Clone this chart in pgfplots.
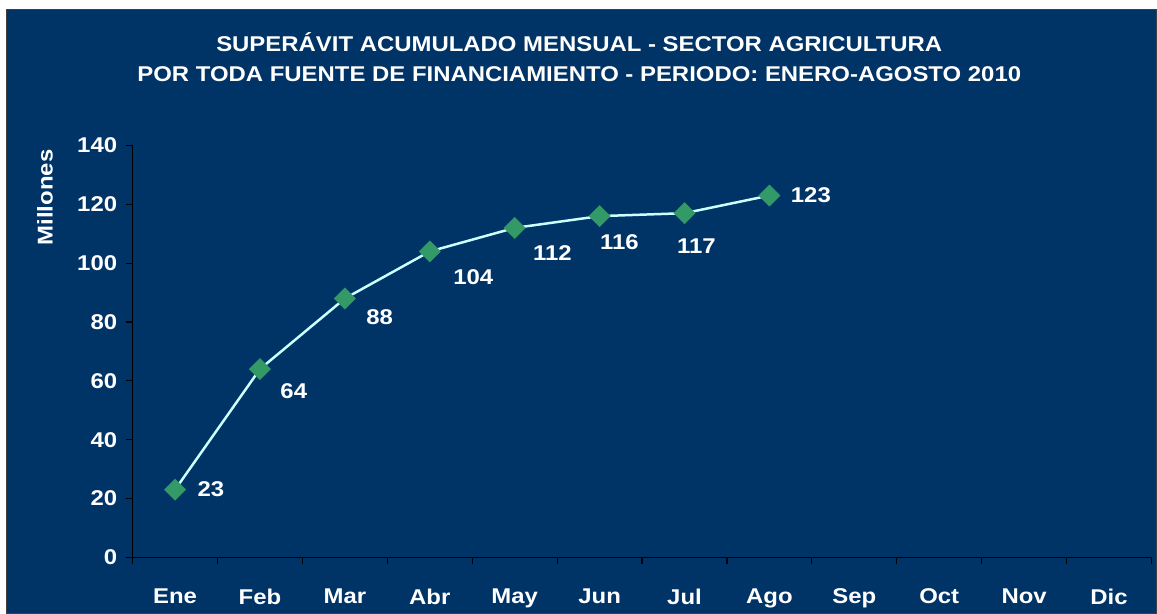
\documentclass[border=0pt]{standalone}
\usepackage{pgfplots}
\pgfplotsset{compat=1.18}
\usepackage{pgfplotstable}
\usepackage{fontspec}
\setmainfont{Liberation Sans}[FakeStretch=1.12]

\definecolor{navy}{RGB}{0,51,102}
\definecolor{lineblue}{RGB}{204,255,255}
\definecolor{markgreen}{RGB}{51,153,102}

% x = month index, y = accumulated surplus, dx/dy = label offsets (bp)
\pgfplotstableread{
x y dx dy
0 23 19 0
1 64 17 -22
2 88 18 -19
3 104 20 -26
4 112 15 -25
5 116 -3 -26
6 117 -11 -33
7 123 18 0
}\superavit

\newcommand{\lblfont}{\bfseries\fontsize{21.5}{26}\selectfont}

\begin{document}
\begin{tikzpicture}[x=1bp,y=1bp]
\fill[white] (0,0) rectangle (1157,612);
\filldraw[fill=navy, draw=black!75, line width=1bp] (7,-3) rectangle (1160,602);
\useasboundingbox (0,0) rectangle (1157,612);

\node[font=\bfseries\fontsize{21.5}{30}\selectfont, text=white, align=center]
  at (581,555) {SUPERÁVIT ACUMULADO MENSUAL - SECTOR AGRICULTURA\\
  POR TODA FUENTE DE FINANCIAMIENTO - PERIODO: ENERO-AGOSTO 2010};

\begin{axis}[
    at={(133bp,53bp)}, anchor=south west,
    scale only axis,
    width=1022bp, height=413bp,
    xmin=-0.5, xmax=11.5,
    ymin=0, ymax=140,
    clip=false,
    axis x line*=bottom, axis y line*=left,
    axis line style={black, line width=1.2bp, -},
    xtick={0,...,11},
    xticklabels={Ene,Feb,Mar,Abr,May,Jun,Jul,Ago,Sep,Oct,Nov,Dic},
    minor xtick={-0.5,0.5,...,11.5},
    major x tick style={draw=none},
    ytick={0,20,...,140},
    tick align=outside,
    tick style={black, line width=1.2bp},
    major tick length=7bp, minor tick length=7bp,
    ticklabel style={font=\lblfont, text=white},
    xticklabel style={yshift=-21bp},
    yticklabel style={xshift=-5bp},
    /pgf/number format/assume math mode=true,
    every axis y label/.style={at={(axis description cs:-0.086,0.874)},
        rotate=90, anchor=center, font=\lblfont, text=white},
    ylabel={Millones},
]
\addplot[color=lineblue, line width=2.5bp,
    mark=square*, mark size=7.5bp,
    mark options={rotate=45, fill=markgreen, draw=markgreen, line width=0.5bp},
    visualization depends on={\thisrow{dx} \as \dx},
    visualization depends on={\thisrow{dy} \as \dy},
    nodes near coords,
    nodes near coords style={anchor=west, xshift=\dx bp, yshift=\dy bp,
        font=\lblfont, text=white},
] table[x=x, y=y] {\superavit};
\end{axis}
\end{tikzpicture}
\end{document}
